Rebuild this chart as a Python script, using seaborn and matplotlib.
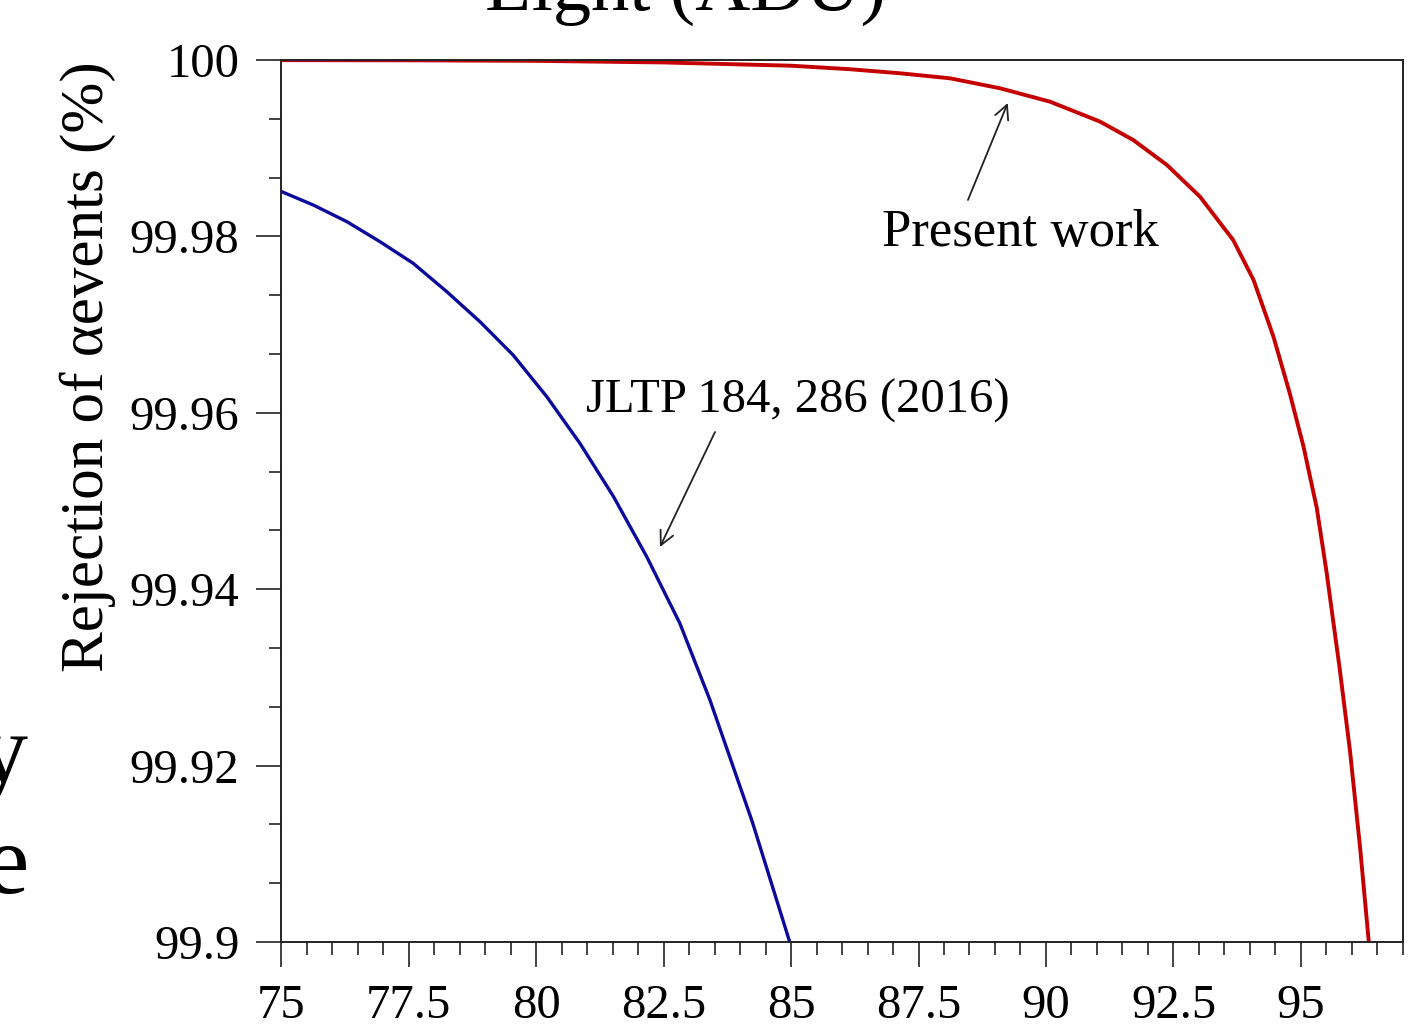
import matplotlib
matplotlib.use("Agg")
import matplotlib.pyplot as plt
from matplotlib.ticker import MultipleLocator, AutoMinorLocator, FuncFormatter
import seaborn as sns
import pandas as pd

# Rejection of alpha events vs. acceptance, present work
present_x = [75.0, 77.5, 80.0, 82.5, 85.0, 86.16, 87.14, 88.12, 89.10, 90.08,
             91.06, 91.71, 92.37, 93.02, 93.67, 94.07, 94.46, 94.78, 95.05,
             95.31, 95.5, 95.76, 95.96, 96.16, 96.33]
present_y = [99.99998, 99.99996, 99.9999, 99.99972, 99.99935, 99.99895,
             99.99849, 99.99792, 99.99679, 99.99527, 99.99301, 99.99093,
             99.9881, 99.9845, 99.97959, 99.97506, 99.96863, 99.96221,
             99.95616, 99.9492, 99.94201, 99.93094, 99.92172, 99.91066,
             99.9]

# Earlier result, JLTP 184, 286 (2016)
jltp_x = [75.0, 75.63, 76.29, 76.94, 77.59, 78.25, 78.90, 79.55, 80.21,
          80.86, 81.52, 82.17, 82.82, 83.41, 84.24, 84.98]
jltp_y = [99.9851, 99.98356, 99.98167, 99.9794, 99.97695, 99.97373,
          99.97033, 99.96655, 99.96183, 99.95654, 99.95049, 99.94369,
          99.93613, 99.92744, 99.91364, 99.8999]

x_ticks = [75, 77.5, 80, 82.5, 85, 87.5, 90, 92.5, 95]
y_ticks = [99.9, 99.92, 99.94, 99.96, 99.98, 100]

sns.set_theme(style="white")
plt.rcParams["font.family"] = ["Liberation Serif", "DejaVu Serif"]
plt.rcParams["text.color"] = "black"

fig = plt.figure(figsize=(14.13, 10.34), dpi=100)
ax = fig.add_axes([0.1989, 0.0890, 0.7940, 0.8530])

df_present = pd.DataFrame({"x": present_x, "y": present_y})
df_jltp = pd.DataFrame({"x": jltp_x, "y": jltp_y})
sns.lineplot(data=df_present, x="x", y="y", ax=ax, color="#c40000",
             linewidth=2.8, sort=False, estimator=None)
sns.lineplot(data=df_jltp, x="x", y="y", ax=ax, color="#0a0a9c",
             linewidth=2.4, sort=False, estimator=None)

ax.set_xlim(75, 97)
ax.set_ylim(99.9, 100)
ax.set_xticks(x_ticks)
ax.set_yticks(y_ticks)
ax.xaxis.set_minor_locator(MultipleLocator(0.5))
ax.yaxis.set_minor_locator(AutoMinorLocator(3))
ax.xaxis.set_major_formatter(FuncFormatter(lambda v, p: f"{v:g}"))
ax.yaxis.set_major_formatter(FuncFormatter(lambda v, p: f"{v:g}"))

for side in ["left", "right", "top", "bottom"]:
    ax.spines[side].set_visible(True)
    ax.spines[side].set_color("#222222")
    ax.spines[side].set_linewidth(1.4)

ax.tick_params(axis="both", which="major", direction="out", length=18,
               width=1.2, color="#222222", labelsize=35, pad=12,
               labelcolor="black")
ax.tick_params(axis="both", which="minor", direction="out", length=9,
               width=1.2, color="#222222")
ax.tick_params(axis="x", which="both", bottom=True, top=False)
ax.tick_params(axis="y", which="both", left=True, right=False)

ax.set_xlabel("")
ax.set_ylabel("Rejection of \u03b1events (%)", fontsize=44, color="black")
ax.yaxis.label.set(ha="center", va="center", rotation_mode="anchor")
ax.yaxis.set_label_coords(-0.1720, 0.652)

arrow_style = dict(arrowstyle="->", color="#222222", lw=1.3,
                   mutation_scale=25, shrinkA=0, shrinkB=0)

ax.text(89.49, 99.97891, "Present work", ha="center", va="baseline",
        fontsize=38, color="black")
ax.annotate("", xy=(89.25, 99.99512), xytext=(88.47, 99.98413),
            arrowprops=arrow_style)

ax.text(85.14, 99.9600, "JLTP 184, 286 (2016)", ha="center",
        va="baseline", fontsize=35, color="black")
ax.annotate("", xy=(82.43, 99.94478), xytext=(83.51, 99.95782),
            arrowprops=arrow_style)

fig.text(0.485, 1 - 10 / 1034, "Light (ADU)", ha="center", va="baseline",
         fontsize=55, color="black")
fig.text(28 / 1413, 1 - 783 / 1034, "y", ha="right", va="baseline",
         fontsize=72, color="black")
fig.text(28 / 1413, 1 - 893 / 1034, "e", ha="right", va="baseline",
         fontsize=72, color="black")

fig.savefig("out.png", dpi=100)
